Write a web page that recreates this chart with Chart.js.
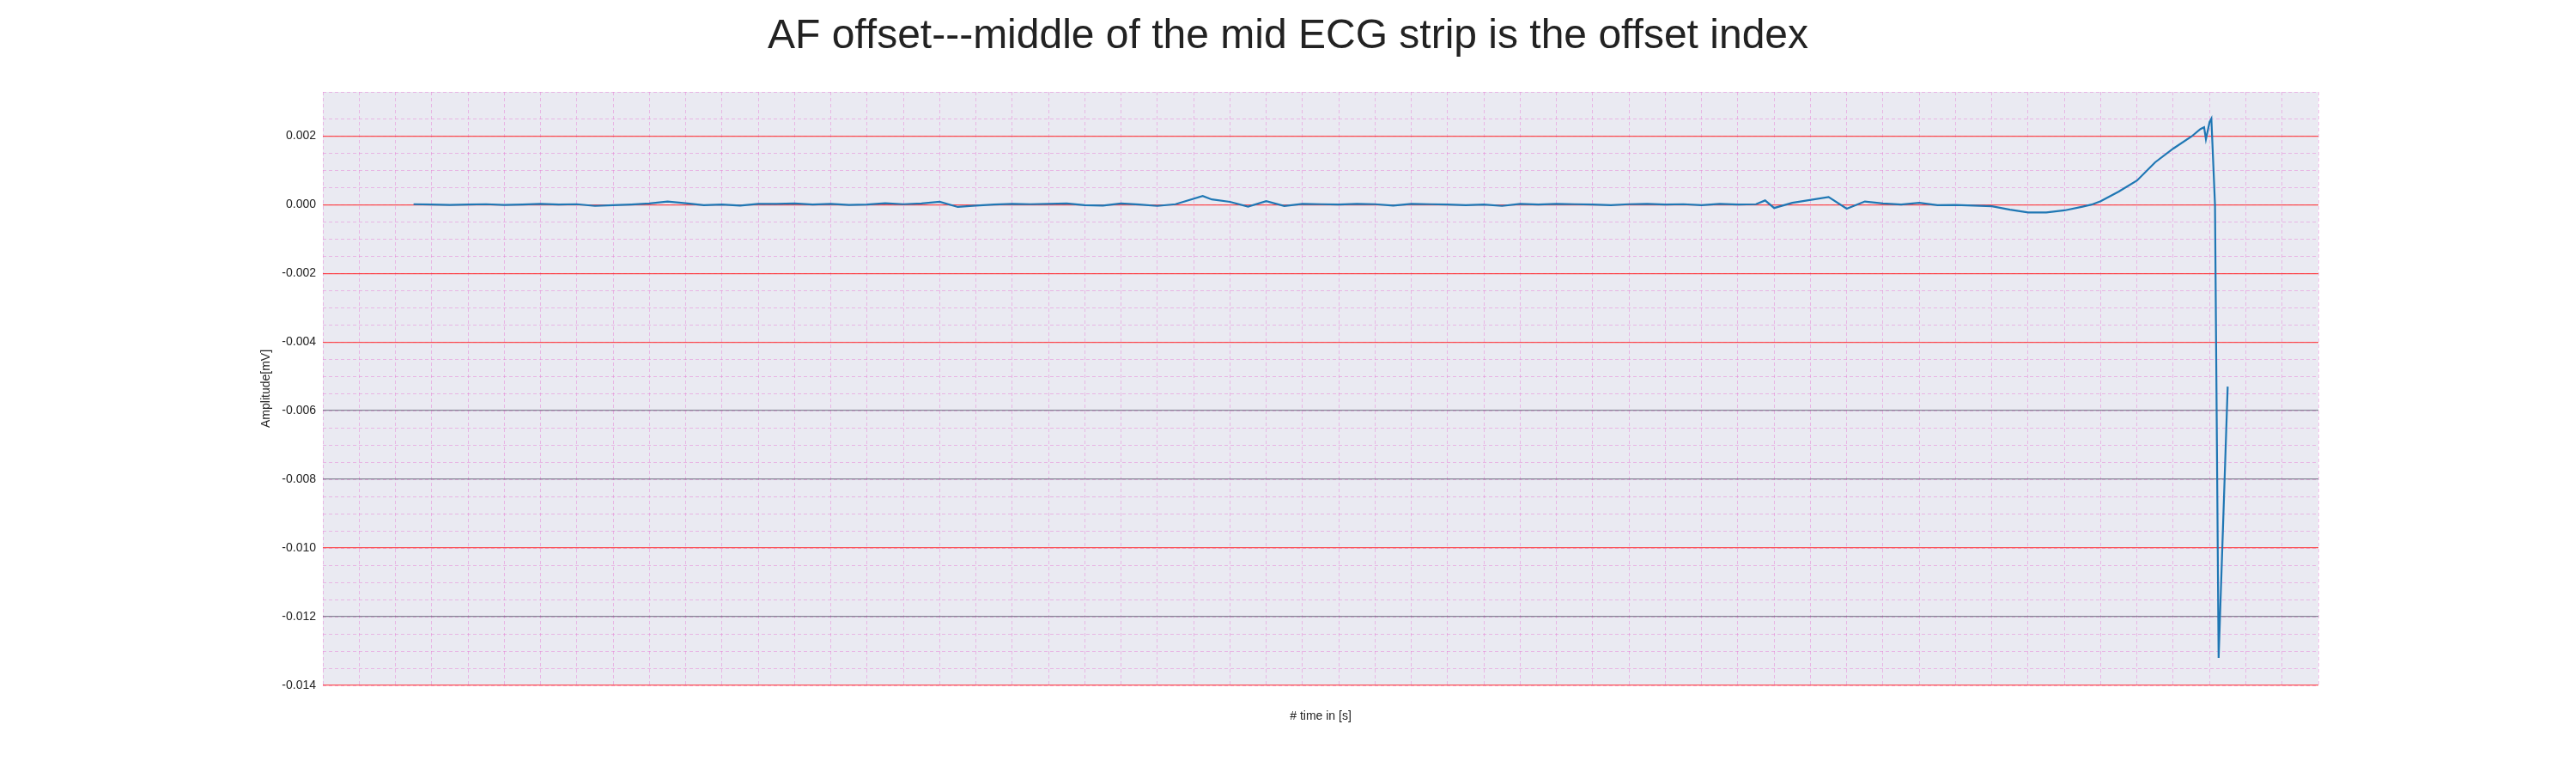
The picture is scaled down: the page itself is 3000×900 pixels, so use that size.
<!DOCTYPE html>
<html>
<head>
<meta charset="utf-8">
<script src="https://cdn.jsdelivr.net/npm/chart.js@4.4.0/dist/chart.umd.min.js"></script>
<style>
  body { margin: 0; background: #fff; }
  #wrap { position: relative; width: 3000px; height: 900px; }
  #title { position: absolute; top: 12px; left: 0; width: 3000px; text-align: center;
           font-family: "Liberation Sans", Arial, sans-serif; font-size: 48px; color: #222; }
</style>
</head>
<body>
<div id="wrap">
  <div id="title">AF offset---middle of the mid ECG strip is the offset index</div>
  <canvas id="ecg" width="3000" height="900"></canvas>
</div>
<script>
// time [s]
const times = [
  0.0,0.1,0.2,0.3,0.4,0.5,0.6,0.7,0.8,0.9,
  1.0,1.1,1.2,1.3,1.4,1.5,1.6,1.7,1.8,1.9,
  2.0,2.1,2.2,2.3,2.4,2.5,2.6,2.7,2.8,2.9,
  3.0,3.1,3.2,3.3,3.4,3.5,3.6,3.7,3.8,3.9,
  4.0,4.1,4.2,4.35,4.4,4.5,4.6,4.7,4.8,4.9,
  5.0,5.1,5.2,5.3,5.4,5.5,5.6,5.7,5.8,5.9,
  6.0,6.1,6.2,6.3,6.4,6.5,6.6,6.7,6.8,6.9,
  7.0,7.1,7.2,7.3,7.4,7.45,7.5,7.6,7.8,7.9,
  8.0,8.1,8.2,8.3,8.4,8.5,8.6,8.7,8.8,8.9,
  9.0,9.1,9.2,9.25,9.3,9.4,9.5,9.6,9.7,9.8,
  9.85,9.87,9.88,9.9,9.91,9.93,9.95,10.0
];
// amplitude in units of 1e-4 mV
const amplitude = [
  0.1,0,-0.1,0,0.1,-0.1,0,0.2,0,0.1,
  -0.4,-0.2,0,0.3,0.9,0.4,-0.2,0,-0.3,0.2,
  0.2,0.3,0,0.2,-0.1,0,0.4,0.1,0.3,0.8,
  -0.7,-0.3,0,0.2,0.1,0.2,0.3,-0.2,-0.3,0.3,
  0,-0.4,0.1,2.5,1.5,0.8,-0.6,1.0,-0.4,0.2,
  0.1,0,0.2,0.1,-0.3,0.2,0.1,0,-0.2,0,
  -0.4,0.2,0,0.2,0.1,0,-0.2,0.1,0.2,0,
  0.1,-0.2,0.2,0,0.1,1.2,-1.0,0.5,2.2,-1.2,
  0.9,0.3,0,0.5,-0.2,-0.1,-0.3,-0.5,-1.5,-2.3,
  -2.3,-1.7,-0.6,0,1.0,3.8,7,12.3,16.3,19.8,
  22,22.5,19,24,25,0,-132,-53
];
const yTickStep = 0.002;
const grayX = [0, 4, 8];
const grayY = [-0.006, -0.008, -0.012];

const points = times.map((t, i) => ({ x: t, y: amplitude[i] * 1e-4 }));
const near = (a, b) => Math.abs(a - b) < 1e-7;
const font = { family: "'Liberation Sans', Arial, sans-serif", size: 14 };

new Chart(document.getElementById("ecg"), {
  type: "scatter",
  data: {
    datasets: [{
      data: points,
      showLine: true,
      borderColor: "#1f77b4",
      borderWidth: 2.2,
      pointRadius: 0,
      tension: 0
    }]
  },
  options: {
    responsive: false,
    animation: false,
    layout: { padding: { left: 300, right: 300, top: 107, bottom: 55 } },
    plugins: { legend: { display: false }, tooltip: { enabled: false } },
    scales: {
      xMinor: {
        type: "linear", position: "bottom", min: -0.5, max: 10.5,
        ticks: { display: false, stepSize: 0.2 },
        grid: { color: "rgba(230,120,210,0.45)", lineWidth: 1, drawTicks: false },
        border: { display: false, dash: [4, 3] },
        afterFit: s => { s.height = 0; }
      },
      yMinor: {
        type: "linear", position: "left", min: -0.014, max: 0.00328,
        ticks: { display: false, stepSize: 0.0005 },
        grid: { color: "rgba(230,120,210,0.45)", lineWidth: 1, drawTicks: false },
        border: { display: false, dash: [4, 3] },
        afterFit: s => { s.width = 0; }
      },
      x: {
        type: "linear", position: "bottom", min: -0.5, max: 10.5,
        ticks: {
          stepSize: 1, color: "#222", font, padding: 4,
          callback: v => Number.isInteger(v) ? String(v) : ""
        },
        grid: {
          color: c => {
            const v = c.tick.value;
            if (!Number.isInteger(v)) return "rgba(0,0,0,0)";
            return grayX.includes(v) ? "rgba(90,90,110,0.7)" : "rgba(255,40,40,0.8)";
          },
          lineWidth: 1.2, drawTicks: false
        },
        border: { display: false },
        title: { display: true, text: "# time in [s]", color: "#222", font, padding: 2 },
        afterFit: s => { s.height = 47; }
      },
      y: {
        type: "linear", position: "left", min: -0.014, max: 0.00328,
        ticks: {
          stepSize: 0.0005, color: "#222", font, padding: 8, autoSkip: false,
          callback: v => near(v / yTickStep, Math.round(v / yTickStep)) ? v.toFixed(3) : ""
        },
        grid: {
          color: c => {
            const v = c.tick.value;
            if (!near(v / yTickStep, Math.round(v / yTickStep))) return "rgba(0,0,0,0)";
            return grayY.some(g => near(g, v)) ? "rgba(90,90,110,0.7)" : "rgba(255,40,40,0.8)";
          },
          lineWidth: 1.2, drawTicks: false
        },
        border: { display: false },
        title: { display: true, text: "Amplitude[mV]", color: "#222", font, padding: 2 },
        afterFit: s => { s.width = 76; }
      }
    }
  },
  plugins: [{
    id: "bg",
    beforeDraw: chart => {
      const { ctx, chartArea: a } = chart;
      ctx.save();
      ctx.fillStyle = "#eaeaf2";
      ctx.fillRect(a.left, a.top, a.right - a.left, a.bottom - a.top);
      ctx.restore();
    }
  }]
});
</script>
</body>
</html>
